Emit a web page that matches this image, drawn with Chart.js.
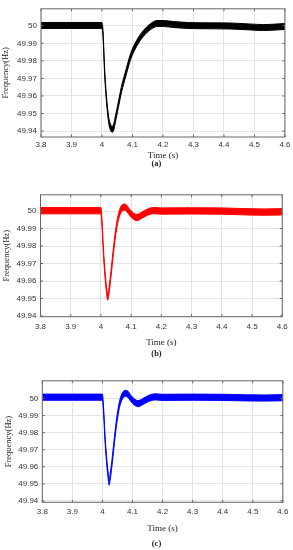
<!DOCTYPE html>
<html>
<head>
<meta charset="utf-8">
<script src="https://cdn.jsdelivr.net/npm/chart.js@4.4.1/dist/chart.umd.min.js"></script>
<style>
  html, body { margin: 0; padding: 0; background: #fff; }
  body { width: 293px; height: 550px; position: relative; overflow: hidden; }
  canvas { position: absolute; left: 0; }
  .cap { position: absolute; left: 10px; width: 293px; text-align: center; line-height: 10px;
         font: bold 8.5px "Liberation Serif", "Times New Roman", serif; color: #222; }
</style>
</head>
<body>
<canvas id="chartA" width="293" height="162" style="top:0px"></canvas>
<div class="cap" style="top:158px">(a)</div>
<canvas id="chartB" width="293" height="163" style="top:186px"></canvas>
<div class="cap" style="top:348px">(b)</div>
<canvas id="chartC" width="293" height="163" style="top:372px"></canvas>
<div class="cap" style="top:538px">(c)</div>

<script>
// axis ticks
const xTicks = [3.8, 3.9, 4.0, 4.1, 4.2, 4.3, 4.4, 4.5, 4.6];
const xLabels = ["3.8", "3.9", "4", "4.1", "4.2", "4.3", "4.4", "4.5", "4.6"];
const yTicks = [49.94, 49.95, 49.96, 49.97, 49.98, 49.99, 50];
const yLabels = ["49.94", "49.95", "49.96", "49.97", "49.98", "49.99", "50"];

// (a) black trace, centre of the band
const timeA = [3.8, 3.9, 4.0, 4.0033, 4.0089, 4.0166, 4.0232, 4.0288, 4.0332, 4.0387, 4.0421, 4.0531, 4.0642,
  4.0786, 4.0941, 4.114, 4.1362, 4.1583, 4.1804, 4.2026, 4.2358, 4.28, 4.35, 4.42, 4.48, 4.53, 4.57, 4.6];
const freqA = [50.0002, 50.0002, 50.0002, 49.9957, 49.9732, 49.9545, 49.9451, 49.9418, 49.941, 49.9423, 49.9451, 49.9545, 49.9639,
  49.9732, 49.9826, 49.9901, 49.9957, 49.9994, 50.0013, 50.0013, 50.0007, 50.0002, 50.0, 49.9999, 49.9994, 49.999, 49.9993, 49.9996];

// (b) red trace
const timeB = [3.8, 3.9, 4.0, 4.0033, 4.0089, 4.0144, 4.0188, 4.0222, 4.0266, 4.0332, 4.0399, 4.0476, 4.0565, 4.0664,
  4.077, 4.0841, 4.0941, 4.1085, 4.119, 4.134, 4.1528, 4.175, 4.2, 4.3, 4.4, 4.48, 4.54, 4.6];
const freqB = [50.0002, 50.0002, 50.0002, 49.9938, 49.9751, 49.962, 49.9545, 49.9508, 49.9545, 49.9639, 49.9751, 49.9863, 49.9957, 50.0009,
  50.0022, 50.0018, 49.9994, 49.997, 49.9963, 49.9975, 49.9993, 50.0003, 50.0, 50.0001, 50.0, 49.9996, 49.9994, 49.9996];

// (c) blue trace
const timeC = [3.8, 3.9, 4.0, 4.0033, 4.0089, 4.0144, 4.0188, 4.0222, 4.0266, 4.0332, 4.0399, 4.0476, 4.0565, 4.0664,
  4.077, 4.0841, 4.0941, 4.1085, 4.119, 4.134, 4.1528, 4.175, 4.2, 4.3, 4.4, 4.48, 4.54, 4.6];
const freqC = [50.0008, 50.0008, 50.0008, 49.9945, 49.9758, 49.9627, 49.9552, 49.951, 49.9552, 49.9646, 49.9758, 49.987, 49.9964, 50.0016,
  50.003, 50.0026, 50.0002, 49.9977, 49.997, 49.9982, 50.0, 50.001, 50.0007, 50.0008, 50.0007, 50.0004, 50.0003, 50.0005];

// half-height of the switching ripple band (Hz)
const rippleA = 0.0017;
const rippleB = 0.0018;
const rippleC = 0.0018;

const tickFont = { family: "'Liberation Sans', Arial, sans-serif", size: 8 };
const titleFont = { family: "'Liberation Serif', 'Times New Roman', serif", size: 9 };

// MATLAB style box with inward ticks
const framePlugin = {
  id: "frame",
  afterDraw(chart) {
    const ctx = chart.ctx;
    const a = chart.chartArea;
    const xs = chart.scales.x;
    const ys = chart.scales.y;
    ctx.save();
    ctx.strokeStyle = "#666";
    ctx.lineWidth = 1;
    ctx.strokeRect(a.left, a.top, a.right - a.left, a.bottom - a.top);
    ctx.beginPath();
    xTicks.forEach(function (v) {
      const px = xs.getPixelForValue(v);
      ctx.moveTo(px, a.bottom); ctx.lineTo(px, a.bottom - 2.5);
      ctx.moveTo(px, a.top); ctx.lineTo(px, a.top + 2.5);
    });
    yTicks.forEach(function (v) {
      const py = ys.getPixelForValue(v);
      ctx.moveTo(a.left, py); ctx.lineTo(a.left + 2.5, py);
      ctx.moveTo(a.right, py); ctx.lineTo(a.right - 2.5, py);
    });
    ctx.stroke();
    ctx.restore();
  }
};

function makePanel(id, time, freq, ripple, color, yMin, yMax, box) {
  const upper = time.map(function (t, i) { return { x: t, y: freq[i] + ripple }; });
  const lower = time.map(function (t, i) { return { x: t, y: freq[i] - ripple }; });
  const line = {
    borderColor: color,
    borderWidth: 1,
    pointRadius: 0,
    cubicInterpolationMode: "monotone"
  };
  return new Chart(document.getElementById(id), {
    type: "line",
    data: {
      datasets: [
        Object.assign({ data: upper, fill: false }, line),
        Object.assign({ data: lower, fill: "-1", backgroundColor: color }, line)
      ]
    },
    options: {
      responsive: false,
      animation: false,
      events: [],
      layout: { padding: { top: box.top, right: box.right, left: 0, bottom: 0 } },
      plugins: { legend: { display: false }, tooltip: { enabled: false } },
      scales: {
        x: {
          type: "linear",
          min: 3.8,
          max: 4.6,
          afterBuildTicks: function (s) { s.ticks = xTicks.map(function (v) { return { value: v }; }); },
          afterFit: function (s) { s.height = box.xHeight; },
          border: { display: false },
          grid: { color: "#e4e4e4", drawTicks: false },
          ticks: {
            font: tickFont,
            color: "#333",
            padding: box.xPad,
            maxRotation: 0,
            callback: function (v, i) { return xLabels[i]; }
          },
          title: { display: true, text: "Time (s)", font: titleFont, color: "#222", padding: { top: 0, bottom: 1 } }
        },
        y: {
          min: yMin,
          max: yMax,
          afterBuildTicks: function (s) { s.ticks = yTicks.map(function (v) { return { value: v }; }); },
          afterFit: function (s) { s.width = box.yWidth; },
          border: { display: false },
          grid: { color: "#e4e4e4", drawTicks: false },
          ticks: {
            font: tickFont,
            color: "#333",
            padding: 4,
            callback: function (v, i) { return yLabels[i]; }
          },
          title: {
            display: true,
            text: "Frequency(Hz)",
            font: { family: titleFont.family, size: 8.5 },
            color: "#222",
            padding: { top: box.yTitlePad, bottom: 0 }
          }
        }
      }
    },
    plugins: [framePlugin]
  });
}

makePanel("chartA", timeA, freqA, rippleA, "#000000", 49.9366, 50.0097,
  { top: 7, right: 7, yWidth: 41, xHeight: 25, xPad: 2.5, yTitlePad: 1 });
makePanel("chartB", timeB, freqB, rippleB, "#ff0000", 49.9396, 50.0093,
  { top: 6.7, right: 7, yWidth: 40.5, xHeight: 32.3, xPad: 5.2, yTitlePad: 1.5 });
makePanel("chartC", timeC, freqC, rippleC, "#0000ff", 49.9392, 50.0104,
  { top: 7, right: 8.7, yWidth: 42.3, xHeight: 32.7, xPad: 4.6, yTitlePad: 4 });
</script>
</body>
</html>
